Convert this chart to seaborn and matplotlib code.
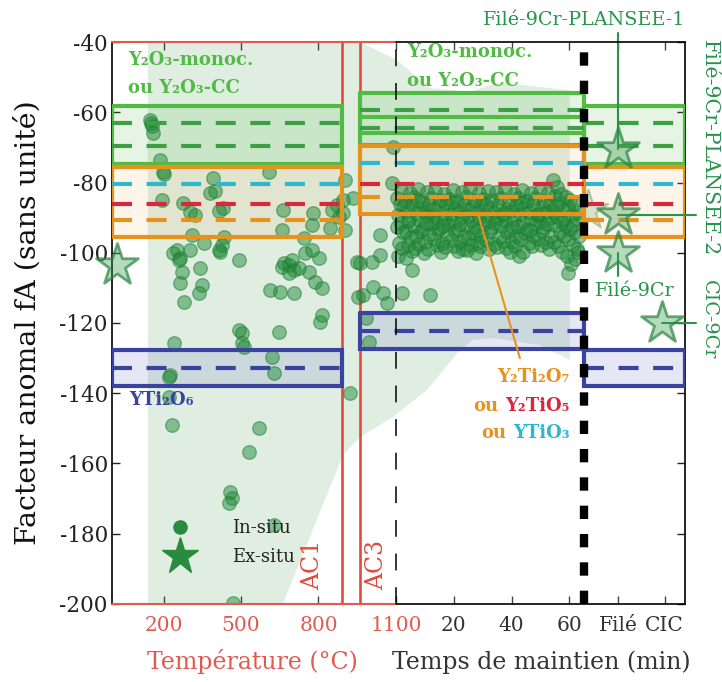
import numpy as np
import pandas as pd
import matplotlib
matplotlib.use("Agg")
import matplotlib.pyplot as plt
import matplotlib.transforms as mtransforms
from matplotlib.lines import Line2D
import seaborn as sns

sns.set_theme(style="ticks")
plt.rcParams["font.family"] = ["DejaVu Serif", "DejaVu Sans"]
plt.rcParams["axes.unicode_minus"] = False

# ---------------- axis layout data ----------------
T_MAX = 1100          # end of the temperature section (°C)
TIME_SCALE = 11.2     # one minute of holding time, in temperature-axis units
TIME_MAX = 100
AC1 = 890
AC3 = 960
HOLD_END = 65         # end of holding-time section (min)
FILE_POS = 77
CIC_POS = 93
temp_ticks = [200, 500, 800, 1100]
time_ticks = [20, 40, 60]
extra_ticks = [77, 93]
extra_labels = ["Filé", "CIC"]
y_ticks = [-200, -180, -160, -140, -120, -100, -80, -60, -40]


def X(t):
    """holding time (min) -> composite x coordinate"""
    return T_MAX + np.asarray(t, dtype=float) * TIME_SCALE


# ---------------- in-situ data: temperature ramp (T °C, fA) ----------------
insitu_temp = [
    (147, -62.2), (152, -63.0), (155, -64.0), (159, -65.8),
    (186, -73.6), (198, -77.0), (201, -77.5),
    (608, -77.0), (391, -78.7), (380, -83.0), (399, -82.5),
    (194, -85.0), (275, -85.8), (302, -88.4), (321, -89.3),
    (430, -87.3), (414, -88.0), (662, -87.8), (778, -88.7), (852, -87.8), (879, -89.8), (871, -86.4),
    (775, -92.1), (844, -93.0), (658, -93.5), (310, -94.9), (434, -95.5), (744, -95.8),
    (902, -79.3), (933, -84.4), (895, -85.0), (895, -88.7), (902, -93.5),
    (252, -99.2), (302, -99.2), (356, -97.2), (414, -99.2), (426, -97.8), (418, -99.8), (236, -100.1), (263, -101.5),
    (492, -102.1), (259, -102.1), (271, -105.5), (341, -104.3), (263, -108.6), (349, -109.2), (337, -111.5), (279, -114.0),
    (658, -104.1), (666, -102.9), (686, -103.5), (697, -102.1), (705, -104.9), (724, -104.3), (686, -105.8),
    (747, -100.1), (802, -101.5), (775, -99.2), (763, -105.5), (786, -108.3), (813, -110.0),
    (612, -110.6), (651, -111.2), (705, -111.5),
    (813, -117.7), (806, -119.7), (492, -122.0), (503, -122.8), (503, -125.7), (511, -126.8), (647, -122.6),
    (240, -125.7), (620, -129.7),
    (225, -134.8), (221, -135.4), (627, -134.2), (221, -141.1), (232, -149.0), (569, -149.9), (531, -156.7),
    (457, -168.1), (465, -169.8), (453, -171.2), (627, -177.5), (469, -199.7),
    (922, -139.9), (949, -102.6), (953, -112.6), (960, -102.9), (972, -112.0), (1007, -102.6), (1011, -109.8),
    (1038, -95.0), (1038, -100.6), (1050, -111.5), (1065, -114.3), (1084, -80.1), (1088, -69.9),
    (985, -118.5), (996, -125.4),
]

# ---------------- in-situ data: holding at 1100 °C (t min, fA) ----------------
insitu_hold = [
    (0.3, -84.5), (0.9, -89.2), (0.4, -92.6), (1.1, -97.3), (0.6, -100.8),
    (1.8, -82.1), (2.4, -86.6), (1.6, -91.4), (2.6, -94.2), (2.0, -98.7),
    (3.2, -85.3), (3.9, -88.1), (3.4, -93.7), (4.1, -97.9), (3.6, -101.6),
    (4.8, -82.9), (5.4, -86.2), (4.6, -90.4), (5.2, -95.6), (5.7, -99.4),
    (6.3, -84.2), (6.9, -88.8), (6.1, -92.3), (7.0, -95.1), (6.6, -98.6),
    (7.7, -81.8), (8.3, -87.4), (7.9, -90.7), (8.6, -93.9), (8.1, -97.5),
    (9.2, -85.6), (9.9, -88.3), (9.4, -93.1), (10.1, -96.8), (9.6, -100.2),
    (10.7, -82.7), (11.4, -86.1), (10.9, -89.6), (11.6, -94.6), (11.1, -98.9),
    (12.2, -84.4), (12.9, -89.5), (12.4, -91.8), (13.1, -96.2),
    (13.7, -82.3), (14.4, -86.9), (13.9, -91.2), (14.6, -93.6), (14.1, -97.7),
    (15.2, -85.1), (15.9, -88.6), (15.4, -92.9), (16.1, -97.2), (15.6, -99.8),
    (16.7, -83.3), (17.4, -85.8), (16.9, -90.3), (17.6, -94.8), (17.1, -98.4),
    (18.2, -84.7), (18.9, -89.1), (18.4, -92.2), (19.1, -96.4),
    (19.7, -82.2), (20.4, -87.3), (19.9, -90.9), (20.6, -93.7), (20.1, -98.2),
    (21.2, -85.4), (21.9, -88.2), (21.4, -93.3), (22.1, -96.9), (21.6, -99.6),
    (22.7, -82.8), (23.4, -86.3), (22.9, -89.8), (23.6, -95.3), (23.1, -98.8),
    (24.2, -84.1), (24.9, -89.4), (24.4, -92.1), (25.1, -96.1), (24.6, -99.3),
    (25.7, -81.9), (26.4, -87.1), (25.9, -90.6), (26.6, -94.3), (26.1, -97.8),
    (27.2, -85.2), (27.9, -88.4), (27.4, -92.8), (28.1, -97.1), (27.6, -100.1),
    (28.7, -83.1), (29.4, -85.9), (28.9, -90.2), (29.6, -95.2), (29.1, -98.1),
    (30.2, -84.6), (30.9, -89.3), (30.4, -91.9), (31.1, -96.3),
    (31.7, -82.4), (32.4, -87.2), (31.9, -91.1), (32.6, -93.8), (32.1, -98.9),
    (33.2, -85.1), (33.9, -88.5), (33.4, -92.7), (34.1, -97.4),
    (34.7, -82.6), (35.4, -86.4), (34.9, -90.1), (35.6, -95.4), (35.1, -98.3),
    (36.2, -84.3), (36.9, -89.2), (36.4, -92.4), (37.1, -96.6),
    (37.7, -82.1), (38.4, -87.6), (37.9, -90.8), (38.6, -94.1), (38.1, -98.6),
    (39.2, -85.5), (39.9, -88.2), (39.4, -93.2), (40.1, -96.9), (39.6, -99.9),
    (40.7, -83.2), (41.4, -86.3), (40.9, -90.4), (41.6, -95.1), (41.1, -98.2),
    (42.2, -84.4), (42.9, -89.1), (42.4, -92.3), (43.1, -96.2), (42.6, -100.9),
    (43.7, -82.2), (44.4, -87.4), (43.9, -91.3), (44.6, -94.4), (44.1, -99.7),
    (45.2, -85.3), (45.9, -88.3), (45.4, -93.1), (46.1, -97.3),
    (46.7, -82.9), (47.4, -86.2), (46.9, -90.3), (47.6, -95.2), (47.1, -98.1),
    (48.2, -84.5), (48.9, -89.2), (48.4, -91.8), (49.1, -96.1),
    (49.7, -82.3), (50.4, -87.1), (49.9, -91.2), (50.6, -93.9), (50.1, -97.8),
    (51.2, -85.2), (51.9, -88.4), (51.4, -92.6), (52.1, -96.8),
    (52.7, -83.1), (53.4, -86.1), (52.9, -90.2), (53.6, -95.3), (53.1, -98.9),
    (54.2, -79.4), (54.9, -83.8), (54.4, -88.2), (55.1, -92.1), (54.6, -96.8),
    (55.7, -81.2), (56.4, -85.9), (55.9, -89.8), (56.6, -94.2), (56.1, -98.1),
    (57.2, -83.3), (57.9, -87.8), (57.4, -91.2), (58.1, -95.3), (57.6, -99.8),
    (58.7, -84.2), (59.4, -87.1), (58.9, -92.3), (59.6, -96.2), (59.1, -100.9),
    (60.2, -85.1), (60.9, -89.2), (60.4, -93.1), (61.1, -97.8), (60.6, -103.2),
    (61.7, -86.2), (62.4, -90.1), (61.9, -94.2), (62.6, -98.9), (62.1, -101.8),
    (63.0, -88.3), (63.3, -95.1), (62.9, -99.7),
    (1.3, -86.0), (4.3, -91.0), (7.3, -85.0), (10.3, -91.5), (13.3, -87.5), (16.3, -92.5),
    (19.3, -85.5), (22.3, -91.8), (25.3, -87.9), (28.3, -93.5), (31.3, -86.4), (34.3, -91.6),
    (37.3, -88.7), (40.3, -92.8), (43.3, -85.7), (46.3, -93.6), (49.3, -88.9), (52.3, -91.7),
    (55.3, -86.8), (58.3, -90.3), (61.3, -92.2),
    (2.1, -111.5), (5.5, -104.9), (11.8, -112.0), (59.5, -105.8),
]

# ---------------- ex-situ data ----------------
exsitu_ambient_T = [20]
exsitu_ambient_fA = [-103.5]
exsitu_file_fA = [-70.5, -89.3, -100.1]     # Filé samples
exsitu_cic_t = [92]
exsitu_cic_fA = [-120.0]                    # CIC sample
exsitu_faint = (66.4, -87.8)

# ---------------- reference bands (fA) ----------------
# ambient (left and right sections)
y2o3_amb = (-58.2, -74.6)
y2o3_amb_dash = [-63.0, -69.5]
ti_amb = (-75.5, -95.6)
ti_amb_cyan, ti_amb_red, ti_amb_orange = -80.3, -86.0, -90.7
yti2o6_amb = (-127.7, -138.0)
yti2o6_amb_dash = -132.8
# at 1100 °C (middle section)
y2o3_hot = (-54.6, -69.3)
y2o3_hot_solid = [-61.4, -65.9]
y2o3_hot_dash = [-59.4, -64.5]
ti_hot = (-69.7, -89.0)
ti_hot_cyan, ti_hot_red, ti_hot_orange = -74.5, -80.5, -84.2
yti2o6_hot = (-117.2, -127.5)
yti2o6_hot_dash = -122.3

# envelope of in-situ data (composite x units, fA)
env_top_u = [139, 960, 1104, 1232, 1387, 1503, 1619, 1774]
env_top_v = [-40, -40, -45.1, -53.1, -54.2, -51.4, -52.5, -53.7]
env_bot_u = [139, 662, 895, 960, 1088, 1220, 1348, 1398, 1476, 1658, 1774]
env_bot_v = [-200, -200, -157.6, -152.5, -146.8, -139.1, -127.7, -124.8, -124.3, -126.3, -130.5]

# ---------------- colours ----------------
GREEN_PT = "#238b3a"
GREEN_TXT = "#27944a"
Y2O3_C = "#52bb46"
Y2O3_D = "#3f9f44"
ORANGE = "#e8921e"
CYAN = "#2fb8cc"
RED = "#d8283c"
BLUE = "#3a44a0"
AC_RED = "#e24a3b"
AX_RED = "#e05a50"

# ---------------- figure ----------------
fig = plt.figure(figsize=(7.22, 6.82), dpi=100)
ax = fig.add_axes([0.1551, 0.1144, 0.7936, 0.824])
XMAX = X(TIME_MAX)
ax.set_xlim(0, XMAX)
ax.set_ylim(-200, -40)

# envelope
ax.fill(env_top_u + env_bot_u[::-1], env_top_v + env_bot_v[::-1],
        color="#3a9a48", alpha=0.16, lw=0, zorder=0)

# AC lines
for a in (AC1, AC3):
    ax.axvline(a, color=AC_RED, lw=1.9, zorder=2)

LW = 3.0
DASH = (4.8, 3.5)


def box(x0, x1, top, bot, color, fc, alpha):
    ax.fill_between([x0, x1], top, bot, color=fc, alpha=alpha, lw=0, zorder=1)
    ax.plot([x0, x1, x1, x0, x0], [top, top, bot, bot, top], color=color, lw=LW,
            zorder=4, solid_joinstyle="miter")


def hdash(x0, x1, y, color):
    ax.plot([x0, x1], [y, y], color=color, lw=LW, dashes=DASH, zorder=4)


def hsolid(x0, x1, y, color):
    ax.plot([x0, x1], [y, y], color=color, lw=LW, zorder=4)


for (x0, x1) in [(0, AC1), (X(HOLD_END), XMAX)]:
    box(x0, x1, *y2o3_amb, Y2O3_C, Y2O3_C, 0.15)
    for d in y2o3_amb_dash:
        hdash(x0, x1, d, Y2O3_D)
    box(x0, x1, *ti_amb, ORANGE, "#f5b060", 0.13)
    hdash(x0, x1, ti_amb_cyan, CYAN)
    hdash(x0, x1, ti_amb_red, RED)
    hdash(x0, x1, ti_amb_orange, ORANGE)
    box(x0, x1, *yti2o6_amb, BLUE, "#5a60c0", 0.15)
    hdash(x0, x1, yti2o6_amb_dash, BLUE)

x0, x1 = AC3, X(HOLD_END)
box(x0, x1, *y2o3_hot, Y2O3_C, Y2O3_C, 0.15)
for d in y2o3_hot_solid:
    hsolid(x0, x1, d, Y2O3_C)
for d in y2o3_hot_dash:
    hdash(x0, x1, d, Y2O3_D)
box(x0, x1, *ti_hot, ORANGE, "#f5b060", 0.13)
hdash(x0, x1, ti_hot_cyan, CYAN)
hdash(x0, x1, ti_hot_red, RED)
hdash(x0, x1, ti_hot_orange, ORANGE)
box(x0, x1, *yti2o6_hot, BLUE, "#5a60c0", 0.15)
hdash(x0, x1, yti2o6_hot_dash, BLUE)

# ---------------- in-situ scatter ----------------
df_in = pd.DataFrame(
    [(T, v) for T, v in insitu_temp] + [(float(X(t)), v) for t, v in insitu_hold],
    columns=["x", "fA"])
sns.scatterplot(data=df_in, x="x", y="fA", s=95, color=GREEN_PT, alpha=0.5,
                edgecolor="#1c7a32", linewidth=1.0, ax=ax, zorder=3, legend=False)

# ---------------- ex-situ stars ----------------
star_x = list(exsitu_ambient_T) + [float(X(FILE_POS))] * len(exsitu_file_fA) + [float(X(t)) for t in exsitu_cic_t]
star_y = list(exsitu_ambient_fA) + exsitu_file_fA + exsitu_cic_fA
df_ex = pd.DataFrame({"x": star_x, "fA": star_y})
sns.scatterplot(data=df_ex, x="x", y="fA", s=1000, marker="*", color=GREEN_PT,
                linewidth=2.0, ax=ax, zorder=6, legend=False)
coll = ax.collections[-1]
coll.set_alpha(None)
coll.set_facecolor((0.25, 0.62, 0.32, 0.38))
coll.set_edgecolor((0.16, 0.52, 0.26, 0.7))
coll.set_clip_on(False)

sns.scatterplot(x=[float(X(exsitu_faint[0]))], y=[exsitu_faint[1]], s=900, marker="*",
                color=GREEN_PT, linewidth=1.5, ax=ax, zorder=3, legend=False)
c2 = ax.collections[-1]
c2.set_alpha(None)
c2.set_facecolor((0.25, 0.62, 0.32, 0.2))
c2.set_edgecolor((0.16, 0.52, 0.26, 0.35))

# ---------------- separators ----------------
ax.axvline(T_MAX, color="black", lw=1.1, dashes=(11, 11), zorder=7)
ax.axvline(X(HOLD_END), color="black", lw=6, dashes=(1.6, 1.8), zorder=7)

# ---------------- spines / ticks ----------------
for s in ("top", "bottom"):
    ax.spines[s].set_visible(False)
for s in ("left", "right"):
    ax.spines[s].set_color("black")
    ax.spines[s].set_linewidth(1.2)
btr = mtransforms.blended_transform_factory(ax.transData, ax.transAxes)
for yy in (0, 1):
    ax.plot([0, T_MAX], [yy, yy], color=AX_RED, lw=1.5, transform=btr, clip_on=False, zorder=8)
    ax.plot([T_MAX, XMAX], [yy, yy], color="black", lw=1.2, transform=btr, clip_on=False, zorder=8)

xt_pos = temp_ticks + [float(X(t)) for t in time_ticks] + [float(X(t)) for t in extra_ticks]
xt_lab = [str(t) for t in temp_ticks] + [str(t) for t in time_ticks] + extra_labels
ax.set_xticks(xt_pos)
ax.set_xticklabels(xt_lab, fontsize=14.5)
for i, lab in enumerate(ax.get_xticklabels()):
    lab.set_color(AX_RED if i < len(temp_ticks) else "#333333")
ax.set_yticks(y_ticks)
ax.set_yticklabels([str(v) for v in y_ticks], fontsize=15.5, color="#222222")
ax.tick_params(axis="x", direction="in", top=True, bottom=True, length=6, width=1, pad=9, color="#444444")
ax.tick_params(axis="y", direction="in", left=True, right=True, length=6, width=1, pad=3, color="#222222")

ax.set_xlabel("")
ax.set_ylabel("Facteur anomal fA (sans unité)", fontsize=20.5, color="#111111")
ax.yaxis.set_label_coords(-0.122, 0.5)
ax.text(546, -0.103, "Température (°C)", transform=btr, ha="center", va="center",
        fontsize=17, color=AX_RED)
ax.text(1662, -0.103, "Temps de maintien (min)", transform=btr, ha="center", va="center",
        fontsize=17, color="#333333")

# ---------------- band labels ----------------
bold = dict(fontsize=13, fontweight="bold")
ax.text(62, -45.1, "Y₂O₃-monoc.", color=Y2O3_C, ha="left", va="center", **bold)
ax.text(62, -53.1, "ou Y₂O₃-CC", color=Y2O3_C, ha="left", va="center", **bold)
ax.text(1142, -42.8, "Y₂O₃-monoc.", color=Y2O3_C, ha="left", va="center", zorder=9, **bold)
ax.text(1142, -51.1, "ou Y₂O₃-CC", color=Y2O3_C, ha="left", va="center", zorder=9, **bold)
ax.text(66, -141.9, "YTi₂O₆", color=BLUE, ha="left", va="center", **bold)

xr = float(X(60.2))
ax.text(xr, -135.4, "Y₂Ti₂O₇", color=ORANGE, ha="right", va="center", **bold)
t2 = ax.text(xr, -143.6, "Y₂TiO₅", color=RED, ha="right", va="center", **bold)
t3 = ax.text(xr, -151.3, "YTiO₃", color=CYAN, ha="right", va="center", **bold)
fig.canvas.draw()
rend = fig.canvas.get_renderer()
for tt, yv in ((t2, -143.6), (t3, -151.3)):
    bb = tt.get_window_extent(rend)
    xl = ax.transData.inverted().transform((bb.x0, 0))[0]
    ax.annotate("ou", xy=(xl, yv), xytext=(-5, 0), textcoords="offset points",
                ha="right", va="center", color=ORANGE, **bold)
ax.plot([X(28.4), X(42.9)], [-88.9, -130.0], color=ORANGE, lw=1.5, zorder=5)

# AC labels
ax.text(821, -196, "AC1", rotation=90, color=AC_RED, fontsize=17, ha="right", va="bottom")
ax.text(980, -196, "AC3", rotation=90, color=AC_RED, fontsize=17, ha="left", va="bottom")

# ---------------- ex-situ annotations ----------------
ann = dict(color=GREEN_TXT, fontsize=13.8)
ax.text(XMAX, -33.7, "Filé-9Cr-PLANSEE-1", ha="right", va="center", clip_on=False, **ann)
ax.plot([X(FILE_POS)] * 2, [-37.4, exsitu_file_fA[0]], color=GREEN_TXT, lw=1.5, clip_on=False, zorder=5)
ax.text(2316, -39.4, "Filé-9Cr-PLANSEE-2", rotation=270, ha="center", va="top", clip_on=False,
        color=GREEN_TXT, fontsize=14.8)
ax.plot([X(FILE_POS), 2262], [exsitu_file_fA[1]] * 2, color=GREEN_TXT, lw=1.5, clip_on=False, zorder=5)
ax.text(2025, -110.9, "Filé-9Cr", ha="center", va="center", **ann)
ax.plot([X(FILE_POS)] * 2, [exsitu_file_fA[2], -106.5], color=GREEN_TXT, lw=1.5, zorder=5)
ax.text(2312, -107.8, "CIC-9Cr", rotation=270, ha="center", va="top", clip_on=False, **ann)
ax.plot([X(exsitu_cic_t[0]), 2262], [exsitu_cic_fA[0]] * 2, color=GREEN_TXT, lw=1.5, clip_on=False, zorder=5)

# ---------------- legend ----------------
handles = [Line2D([], [], ls="", marker="o", ms=9.5, color="#2a8a3e"),
           Line2D([], [], ls="", marker="*", ms=28, color="#2a8a3e")]
ax.legend(handles, ["In-situ", "Ex-situ"], loc="upper left", bbox_to_anchor=(0.087, 0.151),
          frameon=False, prop={"family": "DejaVu Serif", "size": 13}, handlelength=2.0,
          handletextpad=1.9, borderpad=0, borderaxespad=0, labelspacing=0.6,
          labelcolor="#222222")

fig.savefig("out.png", dpi=100)
